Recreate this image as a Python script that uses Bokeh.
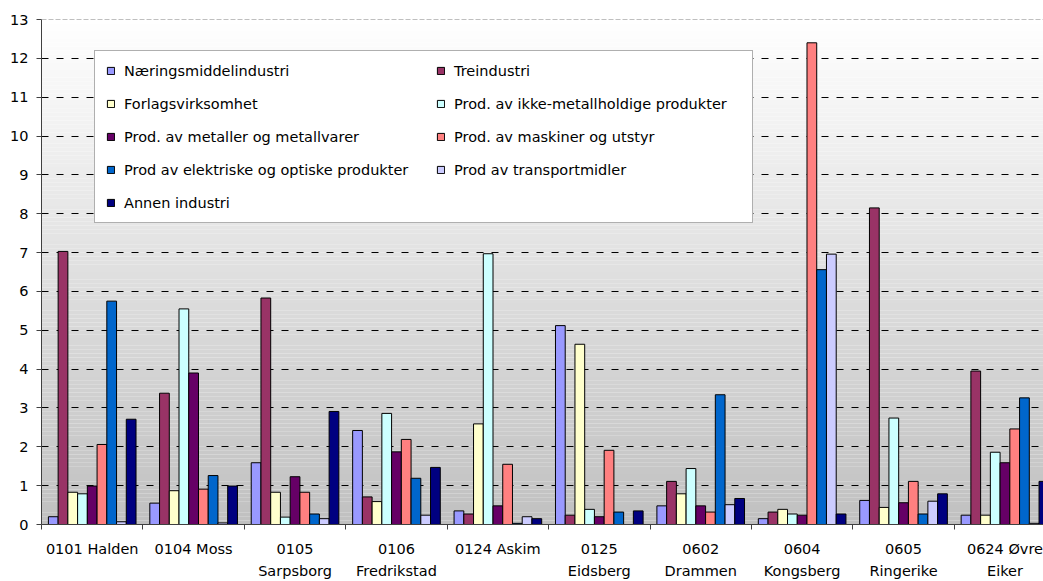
from bokeh.plotting import figure
from bokeh.models import (ColumnDataSource, FixedTicker, LinearAxis, Legend, LegendItem,
                          Range1d, Span)
from bokeh.transform import dodge
from bokeh.embed import file_html
from bokeh.resources import INLINE

# ---------------- data ----------------
tick_line1 = ["0101 Halden", "0104 Moss", "0105", "0106", "0124 Askim",
              "0125", "0602", "0604", "0605", "0624 Øvre"]
tick_line2 = ["", "", "Sarpsborg", "Fredrikstad", "", "Eidsberg",
              "Drammen", "Kongsberg", "Ringerike", "Eiker"]

series_names = ["Næringsmiddelindustri", "Treindustri", "Forlagsvirksomhet",
                "Prod. av ikke-metallholdige produkter", "Prod. av metaller og metallvarer",
                "Prod. av maskiner og utstyr", "Prod av elektriske og optiske produkter",
                "Prod av transportmidler", "Annen industri"]
series_colors = ["#9999FF", "#993366", "#FFFFCC", "#CCFFFF", "#660066",
                 "#FF8080", "#0066CC", "#CCCCFF", "#000080"]

naeringsmiddel = [0.20, 0.55, 1.59, 2.42, 0.35, 5.12, 0.48, 0.15, 0.62, 0.24]
tre            = [7.03, 3.38, 5.83, 0.71, 0.27, 0.24, 1.11, 0.32, 8.15, 3.95]
forlag         = [0.83, 0.87, 0.83, 0.59, 2.59, 4.64, 0.79, 0.39, 0.44, 0.24]
ikke_metall    = [0.79, 5.55, 0.19, 2.86, 6.97, 0.39, 1.44, 0.27, 2.74, 1.86]
metaller       = [0.99, 3.90, 1.23, 1.87, 0.48, 0.20, 0.48, 0.24, 0.56, 1.59]
maskiner       = [2.06, 0.91, 0.83, 2.19, 1.55, 1.91, 0.32, 12.40, 1.11, 2.46]
elektriske     = [5.75, 1.26, 0.27, 1.19, 0.03, 0.32, 3.34, 6.56, 0.27, 3.26]
transport      = [0.07, 0.04, 0.15, 0.24, 0.20, 0.00, 0.51, 6.96, 0.60, 0.03]
annen          = [2.71, 0.99, 2.91, 1.47, 0.15, 0.35, 0.67, 0.27, 0.79, 1.11]
series_values = [naeringsmiddel, tre, forlag, ikke_metall, metaller,
                 maskiner, elektriske, transport, annen]

y_ticks = list(range(0, 14))

# ---------------- figure ----------------
FONT = "DejaVu Sans"
FS = "14.5px"
n_cat = len(tick_line1)
centers = [i + 0.5 for i in range(n_cat)]
bounds = list(range(n_cat))

p = figure(width=1043, height=581, output_backend="svg", toolbar_location=None,
           x_range=Range1d(0, 9.88), y_range=Range1d(0, 13),
           min_border_left=41, min_border_right=0, min_border_top=19, min_border_bottom=0,
           background_fill_color="white", border_fill_color="white")
p.outline_line_color = None

# gradient background (style only)
nb = 130
bot = [13 * k / nb for k in range(nb)]
top = [13 * (k + 1) / nb for k in range(nb)]
cols = []
for k in range(nb):
    f = (k + 0.5) / nb
    g = int(round(192 + (255 - 192) * f))
    cols.append("#%02x%02x%02x" % (g, g, g))
bg = ColumnDataSource(dict(b=bot, t=top, c=cols))
p.quad(left=0, right=10, bottom="b", top="t", fill_color="c", line_color=None,
       source=bg, level="image")

# grid
p.xgrid.visible = False
p.ygrid.ticker = FixedTicker(ticks=list(range(1, 13)))
p.ygrid.grid_line_color = "#000000"
p.ygrid.grid_line_dash = "7 8"
p.ygrid.grid_line_width = 1
p.add_layout(Span(location=13, dimension="width", line_color="#808080",
                  line_dash="5 2", line_width=1))

# bars
src = ColumnDataSource(dict(xc=centers, **{"s%d" % i: v for i, v in enumerate(series_values)}))
bw = 0.096
renderers = []
for i, (name, col) in enumerate(zip(series_names, series_colors)):
    r = p.vbar(x=dodge("xc", (i - 4) * bw, range=p.x_range), top="s%d" % i, width=bw,
               bottom=0, source=src, fill_color=col, line_color="black", line_width=1)
    renderers.append(r)

# invisible placeholder so both legend columns have five rows
blank = p.vbar(x=[], top=[], width=bw, fill_alpha=0, line_alpha=0)

# y axis
yax = p.yaxis[0]
yax.ticker = FixedTicker(ticks=y_ticks)
yax.major_tick_out = 5
yax.major_tick_in = 0
yax.minor_tick_out = 0
yax.minor_tick_in = 0
yax.axis_line_color = "#404040"
yax.major_tick_line_color = "#404040"
yax.major_label_text_font = FONT
yax.major_label_text_font_size = FS
yax.major_label_text_color = "black"
yax.major_label_standoff = 8

# x axis (first line)
xax = p.xaxis[0]
xax.ticker = FixedTicker(ticks=centers, minor_ticks=bounds)
xax.major_tick_out = 0
xax.major_tick_in = 0
xax.minor_tick_out = 5
xax.minor_tick_in = 0
xax.axis_line_color = "#404040"
xax.minor_tick_line_color = "#404040"
xax.major_label_overrides = {c: t for c, t in zip(centers, tick_line1)}
xax.major_label_text_font = FONT
xax.major_label_text_font_size = FS
xax.major_label_text_color = "black"
xax.major_label_standoff = 11

# x axis (second line)
xax2 = LinearAxis(ticker=FixedTicker(ticks=centers, minor_ticks=[]))
xax2.axis_line_color = None
xax2.major_tick_line_color = None
xax2.minor_tick_line_color = None
xax2.major_tick_out = 0
xax2.major_tick_in = 0
xax2.major_label_overrides = {c: t for c, t in zip(centers, tick_line2)}
xax2.major_label_text_font = FONT
xax2.major_label_text_font_size = FS
xax2.major_label_text_color = "black"
xax2.major_label_standoff = 3
p.add_layout(xax2, "below")

# legends (two columns)
def make_legend(items, loc, boxed, lw):
    lg = Legend(items=items, location=loc, orientation="vertical",
                glyph_width=9, glyph_height=9, label_standoff=9, label_height=17,
                label_width=lw, spacing=16, padding=11, margin=0,
                label_text_font=FONT, label_text_font_size=FS, label_text_color="black")
    if boxed:
        lg.border_line_color = "#606060"
        lg.border_line_width = 1
        lg.background_fill_color = "white"
        lg.background_fill_alpha = 1
    else:
        lg.border_line_color = None
        lg.background_fill_alpha = 0
    return lg

items1 = [LegendItem(label=series_names[i], renderers=[renderers[i]]) for i in [0, 2, 4, 6, 8]]
items2 = [LegendItem(label=series_names[i], renderers=[renderers[i]]) for i in [1, 3, 5, 7]]
items2.append(LegendItem(label=" ", renderers=[blank]))

leg1 = make_legend(items1, (53, 301), True, 617)
leg2 = make_legend(items2, (395, 313), False, 100)
p.add_layout(leg1, "center")
p.add_layout(leg2, "center")

open("out.html", "w").write(file_html(p, INLINE))
